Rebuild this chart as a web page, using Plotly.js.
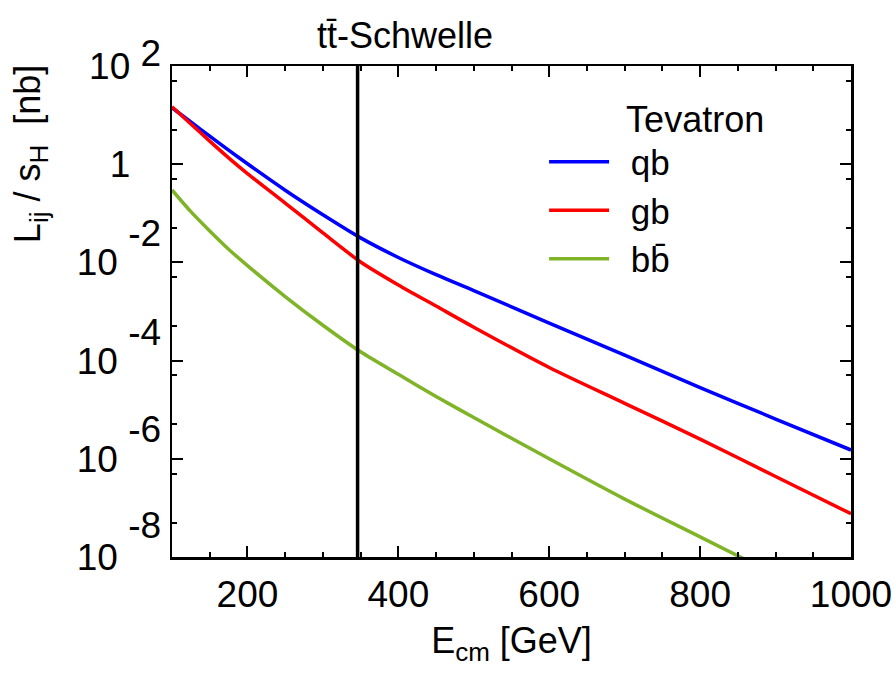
<!DOCTYPE html>
<html>
<head>
<meta charset="utf-8">
<script src="https://cdn.plot.ly/plotly-3.0.1.min.js"></script>
<style>html,body{margin:0;padding:0;background:#fff;}</style>
</head>
<body>
<div id="chart" style="width:896px;height:673px;"></div>
<script>
// ---- data ----
const energy = [100,125,150,175,200,250,300,350,400,450,500,600,700,800,900,1000]; // E_cm [GeV]
const qb    = [14.1,7.24,3.72,1.93,1.02,0.295,0.0933,0.0316,0.0126,5.62e-3,2.66e-3,5.82e-4,1.29e-4,2.82e-5,6.46e-6,1.51e-6];
const gb    = [14.8,6.61,2.95,1.35,0.646,0.162,0.0398,0.0102,3.47e-3,1.29e-3,4.79e-4,7.24e-5,1.35e-5,2.51e-6,4.37e-7,7.59e-8];
const bbbar = [0.299,0.108,0.0437,0.0186,8.61e-3,2.02e-3,5.25e-4,1.51e-4,5.25e-5,1.86e-5,6.92e-6,1.0e-6,1.51e-7,2.57e-8,4.37e-9,7.9e-10];
const seriesNames = ['\u00a0\u2009qb','\u00a0\u2009gb','\u00a0\u2009bb\u0304'];
const threshold = 346; // 2 m_t [GeV]
const yLabelVals = [1e2,1e0,1e-2,1e-4,1e-6,1e-8];
const yLabelText = [
  '10 <span style="baseline-shift:13px">2</span>',
  '1&nbsp;&nbsp;&nbsp;',
  '10 <span style="baseline-shift:29px">-2</span>',
  '10 <span style="baseline-shift:29px">-4</span>',
  '10 <span style="baseline-shift:30px">-6</span>',
  '10 <span style="baseline-shift:32px">-8</span>'];
const yOddDecades = [1e1,1e-1,1e-3,1e-5,1e-7];
const yMinorVals = [50,5,0.5,0.05,5e-3,5e-4,5e-5,5e-6,5e-7,5e-8];

const FONT = 'Liberation Sans, Arial, sans-serif';
const colors = ['#0000ff','#ff0000','#80b428'];
const ys = [qb, gb, bbbar];
const SUB = (t) => '<span style="font-size:26px;baseline-shift:-8px">' + t + '</span>';

const traces = ys.map((y,i)=>({
  x: energy, y: y, type:'scatter', mode:'lines', name: seriesNames[i],
  legendgroup: 'g'+i,
  line:{color:colors[i], width:3.5, shape:'spline', smoothing:0.8}
}));

const axisCommon = {
  showline:true, linecolor:'#000', linewidth:2.5, mirror:'ticks',
  ticks:'inside', tickcolor:'#000', tickwidth:2, ticklen:11,
  showgrid:false, zeroline:false,
  tickfont:{family:FONT, size:37, color:'#000'}
};

const layout = {
  width:896, height:673,
  margin:{l:172, r:45, t:66, b:116},
  paper_bgcolor:'#fff', plot_bgcolor:'#fff',
  showlegend:true,
  title:{text:'tt\u0304-Schwelle', font:{family:FONT, size:36, color:'#000'},
         x:0.452, xref:'container', xanchor:'center', y:0.948, yref:'container', yanchor:'middle'},
  xaxis: Object.assign({}, axisCommon, {
    type:'linear', range:[100,1000], tick0:0, dtick:200,
    minor:{tick0:0, dtick:50, ticks:'inside', ticklen:5, tickwidth:2, tickcolor:'#000'},
    ticklabelstandoff:3,
    title:{text:'E' + SUB('cm') + ' [GeV]', font:{family:FONT, size:36, color:'#000'}, standoff:14}
  }),
  yaxis: Object.assign({}, axisCommon, {
    type:'log', range:[-8,2], tickmode:'array', tickvals:yLabelVals, ticktext:yLabelText,
    minor:{tickmode:'array', tickvals:yMinorVals, ticks:'inside', ticklen:5, tickwidth:2, tickcolor:'#000'},
    ticklabelstandoff:1
  }),
  yaxis2: {
    type:'log', range:[-8,2], overlaying:'y', anchor:'x', side:'left',
    showline:false, mirror:'ticks', ticks:'inside', tickcolor:'#000', tickwidth:2, ticklen:11,
    tickmode:'array', tickvals:yOddDecades, showticklabels:false,
    showgrid:false, zeroline:false
  },
  legend:{
    x:0.548, xanchor:'left', y:0.96, yanchor:'top',
    bgcolor:'rgba(0,0,0,0)', borderwidth:0,
    font:{family:FONT, size:35, color:'#000'},
    itemwidth:60, tracegroupgap:0,
    title:{text:'&nbsp;&nbsp;&nbsp;&nbsp;&nbsp;&nbsp;&nbsp;&nbsp;Tevatron', font:{family:FONT, size:36, color:'#000'}}
  },
  shapes:[{type:'line', xref:'x', yref:'paper', x0:threshold, x1:threshold, y0:0, y1:1,
           line:{color:'#000', width:3.5}, layer:'above'}],
  annotations:[{
    text:'L' + SUB('ij') + ' / s' + SUB('H') + '  [nb]', textangle:-90,
    xref:'paper', yref:'paper', x:-0.208, y:0.82, xanchor:'center', yanchor:'middle',
    showarrow:false, font:{family:FONT, size:36, color:'#000'}
  }]
};

Plotly.newPlot('chart', traces, layout, {staticPlot:true, displayModeBar:false});
</script>
</body>
</html>
